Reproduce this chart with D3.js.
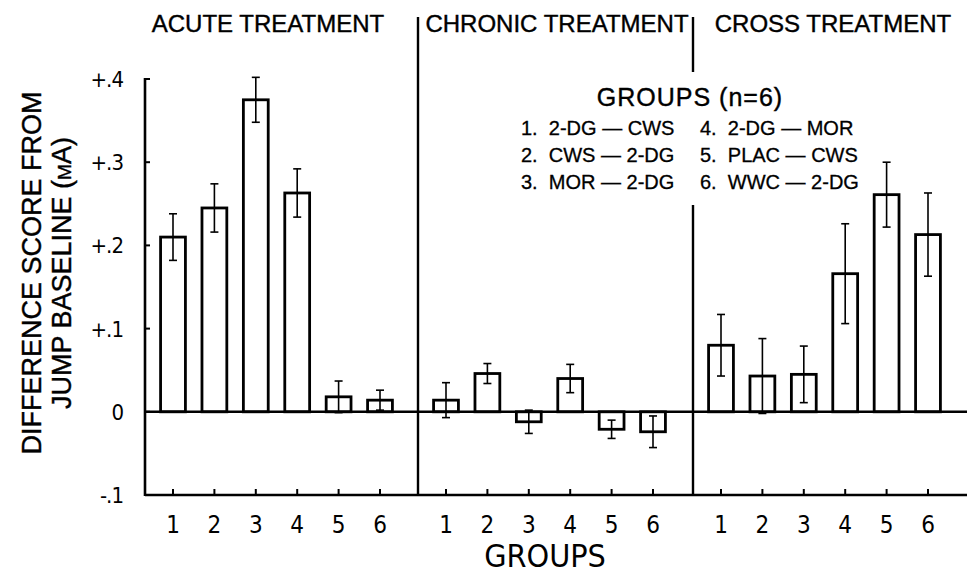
<!DOCTYPE html>
<html>
<head>
<meta charset="utf-8">
<script src="https://cdn.jsdelivr.net/npm/d3@7"></script>
<style>
  html, body { margin: 0; padding: 0; background: #fff; }
  svg { display: block; }
</style>
</head>
<body>
<script>
// ---- data ----
const panelTitles = ["ACUTE TREATMENT", "CHRONIC TREATMENT", "CROSS TREATMENT"];
const groups = ["1", "2", "3", "4", "5", "6"];
const acuteMean   = [0.210, 0.245, 0.375, 0.263, 0.018, 0.014];
const acuteErr    = [0.028, 0.029, 0.027, 0.029, 0.019, 0.012];
const chronicMean = [0.014, 0.046, -0.012, 0.040, -0.021, -0.024];
const chronicErr  = [0.021, 0.012, 0.014, 0.017, 0.011, 0.019];
const crossMean   = [0.080, 0.043, 0.045, 0.166, 0.261, 0.213];
const crossErr    = [0.037, 0.045, 0.034, 0.060, 0.039, 0.050];
const yTickValues = [-0.1, 0, 0.1, 0.2, 0.3, 0.4];
const yTickLabels = ["-.1", "0", "+.1", "+.2", "+.3", "+.4"];
const legendTitle = "GROUPS (n=6)";
const legendLeft  = ["1.  2-DG \u2014 CWS", "2.  CWS \u2014 2-DG", "3.  MOR \u2014 2-DG"];
const legendRight = ["4.  2-DG \u2014 MOR", "5.  PLAC \u2014 CWS", "6.  WWC \u2014 2-DG"];

const means = [acuteMean, chronicMean, crossMean];
const errs  = [acuteErr, chronicErr, crossErr];

// ---- layout ----
const W = 967, H = 576;
const left = 145, right = 968;
const panelX = [left, left + 273, left + 548];

const svg = d3.select("body").append("svg").attr("width", W).attr("height", H);
svg.append("rect").attr("width", W).attr("height", H).attr("fill", "#fff");

const y = d3.scaleLinear().domain([-0.1, 0.4]).range([495, 79]);
const xb = d3.scaleBand().domain(groups).range([7.3, 255.7]).paddingInner(0.4).paddingOuter(0.2);

const fontMain = "'Liberation Sans', Arial, sans-serif";
const fontNarrow = "'Liberation Sans Narrow', 'DejaVu Sans Condensed', sans-serif";

// bars
panelTitles.forEach((t, p) => {
  const g = svg.append("g").attr("transform", `translate(${panelX[p]},0)`);
  const rows = groups.map((k, i) => ({ k, m: means[p][i], e: errs[p][i] }));
  g.selectAll("rect.bar").data(rows).join("rect")
    .attr("class", "bar")
    .attr("x", d => xb(d.k))
    .attr("width", xb.bandwidth())
    .attr("y", d => y(Math.max(0, d.m)))
    .attr("height", d => Math.abs(y(d.m) - y(0)))
    .attr("fill", "#fff").attr("stroke", "#000").attr("stroke-width", 2.8);
  // error bars
  const cx = d => xb(d.k) + xb.bandwidth() / 2;
  g.selectAll("line.ev").data(rows).join("line")
    .attr("x1", cx).attr("x2", cx)
    .attr("y1", d => y(d.m + d.e)).attr("y2", d => y(d.m - d.e))
    .attr("stroke", "#000").attr("stroke-width", 1.6);
  [1, -1].forEach(s => {
    g.selectAll("line.cap" + (s > 0 ? "t" : "b")).data(rows).join("line")
      .attr("x1", d => cx(d) - 4).attr("x2", d => cx(d) + 4)
      .attr("y1", d => y(d.m + s * d.e)).attr("y2", d => y(d.m + s * d.e))
      .attr("stroke", "#000").attr("stroke-width", 1.6);
  });
  // x ticks
  g.selectAll("line.xt").data(groups).join("line")
    .attr("x1", d => xb(d) + xb.bandwidth() / 2).attr("x2", d => xb(d) + xb.bandwidth() / 2)
    .attr("y1", y(-0.1)).attr("y2", y(-0.1) - 6)
    .attr("stroke", "#000").attr("stroke-width", 2);
  g.selectAll("text.xl").data(groups).join("text")
    .attr("x", d => xb(d) + xb.bandwidth() / 2)
    .attr("y", 533)
    .attr("text-anchor", "middle")
    .attr("font-family", fontNarrow).attr("font-size", 24)
    .text(d => d);
  // panel title
  const titleCx = [268, 557, 833];
  svg.append("text").attr("x", titleCx[p]).attr("y", 32)
    .attr("text-anchor", "middle").attr("font-family", fontMain).attr("font-size", 24)
    .attr("stroke", "#000").attr("stroke-width", 0.4)
    .text(t);
});

// zero line and bottom axis
svg.append("line").attr("x1", left).attr("x2", right).attr("y1", y(0)).attr("y2", y(0))
  .attr("stroke", "#000").attr("stroke-width", 2.4);
svg.append("line").attr("x1", left).attr("x2", right).attr("y1", y(-0.1)).attr("y2", y(-0.1))
  .attr("stroke", "#000").attr("stroke-width", 2.6);
// left axis
svg.append("line").attr("x1", left).attr("x2", left).attr("y1", y(0.4) - 1).attr("y2", y(-0.1) + 1)
  .attr("stroke", "#000").attr("stroke-width", 2.6);
svg.selectAll("line.yt").data(yTickValues).join("line")
  .attr("x1", left).attr("x2", left + 5)
  .attr("y1", d => y(d)).attr("y2", d => y(d))
  .attr("stroke", "#000").attr("stroke-width", 2);
svg.selectAll("text.yl").data(yTickValues).join("text")
  .attr("x", 123).attr("y", d => y(d) + 8)
  .attr("text-anchor", "end")
  .attr("font-family", fontNarrow).attr("font-size", 22).attr("letter-spacing", -1)
  .text((d, i) => yTickLabels[i]);

// dividers
svg.append("line").attr("x1", panelX[1]).attr("x2", panelX[1]).attr("y1", 17).attr("y2", y(-0.1))
  .attr("stroke", "#000").attr("stroke-width", 2.4);
svg.append("line").attr("x1", panelX[2]).attr("x2", panelX[2]).attr("y1", 17).attr("y2", 72)
  .attr("stroke", "#000").attr("stroke-width", 2.4);
svg.append("line").attr("x1", panelX[2]).attr("x2", panelX[2]).attr("y1", 205).attr("y2", y(-0.1))
  .attr("stroke", "#000").attr("stroke-width", 2.4);

// legend
svg.append("text").attr("x", 690).attr("y", 106).attr("text-anchor", "middle")
  .attr("font-family", fontMain).attr("font-size", 25).attr("letter-spacing", 1)
  .attr("stroke", "#000").attr("stroke-width", 0.4)
  .text(legendTitle);
legendLeft.forEach((s, i) => {
  svg.append("text").attr("x", 521).attr("y", 135 + i * 27).attr("xml:space", "preserve")
    .attr("font-family", fontMain).attr("font-size", 20)
    .attr("stroke", "#000").attr("stroke-width", 0.3).text(s);
});
legendRight.forEach((s, i) => {
  svg.append("text").attr("x", 700).attr("y", 135 + i * 27).attr("xml:space", "preserve")
    .attr("font-family", fontMain).attr("font-size", 20)
    .attr("stroke", "#000").attr("stroke-width", 0.3).text(s);
});

// axis titles
svg.append("text").attr("x", 545).attr("y", 567).attr("text-anchor", "middle")
  .attr("font-family", fontNarrow).attr("font-size", 32).text("GROUPS");
const yt = svg.append("g").attr("transform", "translate(0,273) rotate(-90)");
yt.append("text").attr("x", 0).attr("y", 41).attr("text-anchor", "middle")
  .attr("font-family", fontMain).attr("font-size", 27)
  .attr("stroke", "#000").attr("stroke-width", 0.4).text("DIFFERENCE SCORE FROM");
const t2 = yt.append("text").attr("x", 0).attr("y", 71).attr("text-anchor", "middle")
  .attr("font-family", fontMain).attr("font-size", 27)
  .attr("stroke", "#000").attr("stroke-width", 0.4);
t2.append("tspan").text("JUMP BASELINE (");
t2.append("tspan").attr("font-variant", "small-caps").text("m");
t2.append("tspan").text("A)");
</script>
</body>
</html>
